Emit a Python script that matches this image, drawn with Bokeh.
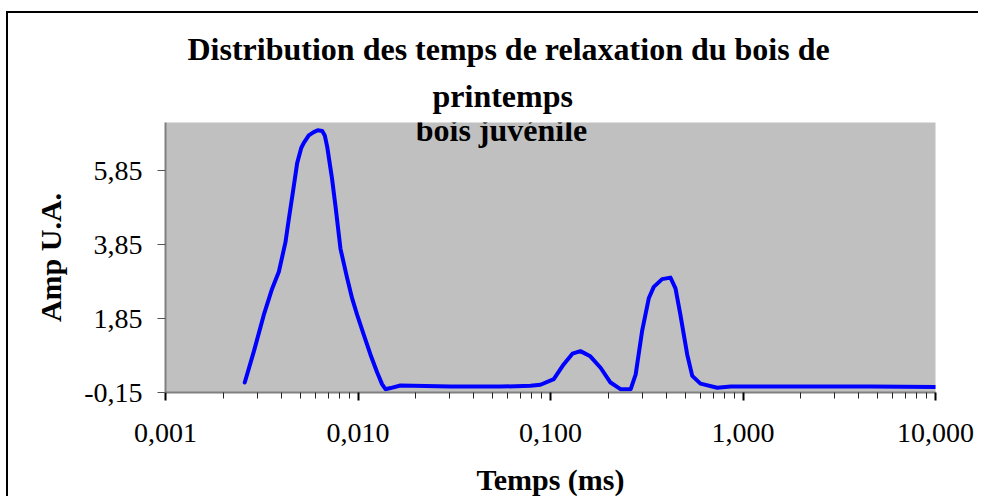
from bokeh.plotting import figure
from bokeh.models import (FixedTicker, CustomJSTickFormatter, Range1d, Label, Title, ColumnDataSource)
from bokeh.embed import file_html
from bokeh.resources import INLINE

# ---- data ----
time_ms = [0.00258, 0.00288, 0.00324, 0.00358, 0.00388, 0.0042, 0.00437, 0.00464,
           0.00483, 0.00507, 0.00523, 0.00555, 0.00589, 0.00618, 0.00652, 0.00672,
           0.00692, 0.00734, 0.00764, 0.00811, 0.00879, 0.00933, 0.0099, 0.01072,
           0.0116, 0.01258, 0.01335, 0.0139, 0.01475, 0.0166, 0.0302, 0.055,
           0.0787, 0.0887, 0.104, 0.117, 0.130, 0.143, 0.161, 0.182, 0.205, 0.231,
           0.261, 0.277, 0.299, 0.324, 0.344, 0.380, 0.420, 0.446, 0.473, 0.513,
           0.545, 0.601, 0.735, 0.863, 1.99, 4.59, 10.0]
amp = [0.12, 0.97, 1.95, 2.66, 3.12, 3.92, 4.54, 5.44,
       6.06, 6.47, 6.61, 6.81, 6.90, 6.95, 6.93, 6.81,
       6.50, 5.62, 4.89, 3.74, 2.94, 2.39, 1.95, 1.41,
       0.88, 0.39, 0.07, -0.06, -0.03, 0.04, 0.01, 0.01,
       0.03, 0.06, 0.21, 0.61, 0.90, 0.97, 0.83, 0.52, 0.12, -0.06,
       -0.06, 0.34, 1.51, 2.40, 2.71, 2.92, 2.96, 2.67, 1.95, 0.88,
       0.30, 0.09, -0.02, 0.01, 0.01, 0.01, 0.00]

x_major_ticks = [0.001, 0.01, 0.1, 1, 10]
y_ticks = [-0.15, 1.85, 3.85, 5.85]
title_lines = ["Distribution des temps de relaxation du bois de", "printemps", "bois juvénile"]
x_title = "Temps (ms)"
y_title = "Amp U.A."

FONT = "Liberation Serif"

# the canvas is shifted by a CSS margin + border (chart-area outline)
OX, OY = 8, 13
W, H = 972, 485
FL, FR, FT, FB = 165 - OX, 935 - OX, 122 - OY, 395 - OY  # frame edges in canvas px
p = figure(width=W, height=H, x_axis_type="log",
           x_range=Range1d(0.001, 10), y_range=Range1d(-0.15, 7.16),
           output_backend="svg", toolbar_location=None,
           min_border_left=FL, min_border_right=W - FR,
           min_border_top=FT, min_border_bottom=H - FB)
p.background_fill_color = "#C0C0C0"
p.border_fill_color = "white"
p.outline_line_color = None
p.xgrid.visible = False
p.ygrid.visible = False
p.styles = {
    "margin-left": "6px", "margin-top": "11px",
    "border-left": "2px solid black", "border-top": "2px solid black",
}

src = ColumnDataSource(dict(t=time_ms, a=amp))
p.line("t", "a", source=src, line_color="#0000FF", line_width=4,
       line_join="round", line_cap="round")

minor = [m * x for x in x_major_ticks[:-1] for m in range(2, 10)]
p.xaxis.ticker = FixedTicker(ticks=x_major_ticks, minor_ticks=minor)
p.xaxis.formatter = CustomJSTickFormatter(code="return tick.toFixed(3).replace('.', ',');")
p.yaxis.ticker = FixedTicker(ticks=y_ticks)
p.yaxis.formatter = CustomJSTickFormatter(code="return tick.toFixed(2).replace('.', ',');")

for ax in (p.xaxis[0], p.yaxis[0]):
    ax.axis_line_color = "#808080"
    ax.axis_line_width = 2
    ax.major_tick_in = 0
    ax.major_tick_out = 8
    ax.major_tick_line_color = "black"
    ax.major_tick_line_width = 1
    ax.minor_tick_in = 0
    ax.minor_tick_out = 6
    ax.minor_tick_line_color = "#222222"
    ax.major_label_text_font = FONT
    ax.major_label_text_font_size = "28px"
    ax.major_label_text_color = "black"
    ax.axis_label_text_font = FONT
    ax.axis_label_text_font_size = "30px"
    ax.axis_label_text_font_style = "bold"
    ax.axis_label_text_color = "black"
p.xaxis.major_tick_line_width = 2
p.yaxis.minor_tick_line_color = None
p.yaxis.major_tick_line_color = "#555555"
p.yaxis.major_label_standoff = 15
p.xaxis.major_label_standoff = 23
p.xaxis.axis_label = x_title
p.yaxis.axis_label = y_title
p.xaxis.axis_label_standoff = 18
p.yaxis.axis_label_standoff = 14

# two title lines above the plot area (first added is nearest the frame)
t2 = Title(text=title_lines[1], align="left", offset=267, standoff=18,
           text_font=FONT, text_font_size="32px", text_font_style="bold",
           text_color="black")
t1 = Title(text=title_lines[0], align="left", offset=22, standoff=0,
           text_font=FONT, text_font_size="32px", text_font_style="bold",
           text_color="black")
p.add_layout(t2, "above")
p.add_layout(t1, "above")

# third title line sits inside the plot area
p.add_layout(Label(x=501 - 165, y=395 - 132, x_units="screen", y_units="screen",
                   text=title_lines[2], text_font=FONT, text_font_size="32px",
                   text_font_style="bold", text_align="center",
                   text_baseline="middle", text_color="black"))

open("out.html", "w").write(file_html(p, INLINE))
